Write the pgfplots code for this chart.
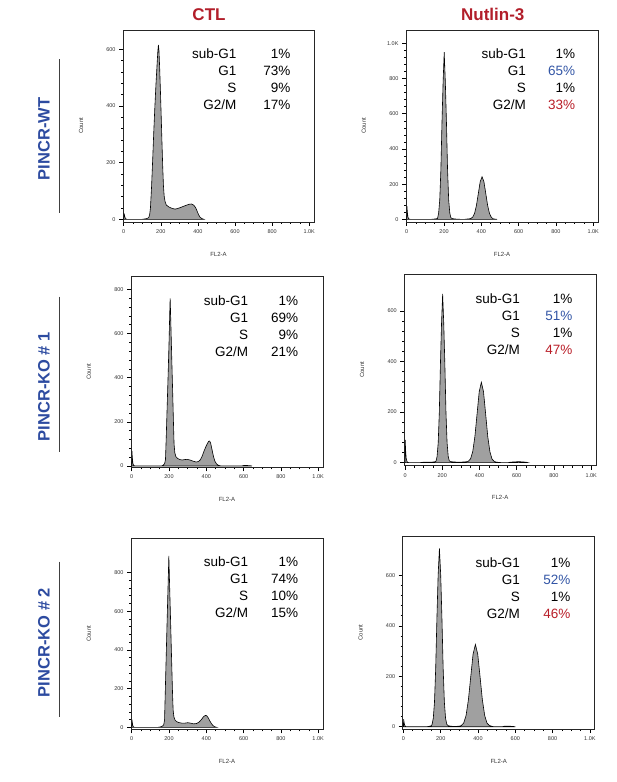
\documentclass[border=0pt]{standalone}
\usepackage{fontspec}
\setmainfont{Liberation Sans}
\usepackage{pgfplots}
\pgfplotsset{compat=1.18}
\definecolor{fillg}{RGB}{160,160,160}
\definecolor{tred}{RGB}{178,30,42}
\definecolor{rblue}{RGB}{45,75,160}
\definecolor{vblue}{RGB}{50,85,165}
\definecolor{vred}{RGB}{185,30,40}
\newcommand{\statfont}{\fontsize{13.5}{15}\selectfont}
\newcommand{\stats}[7]{%
  \node[anchor=base east,font=\statfont] at ({#1pt},{#3pt}) {sub-G1};
  \node[anchor=base east,font=\statfont] at ({#1pt},{#3pt-17pt}) {G1};
  \node[anchor=base east,font=\statfont] at ({#1pt},{#3pt-34pt}) {S};
  \node[anchor=base east,font=\statfont] at ({#1pt},{#3pt-51pt}) {G2/M};
  \node[anchor=base east,font=\statfont] at ({#2pt},{#3pt}) {#4};
  \node[anchor=base east,font=\statfont] at ({#2pt},{#3pt-17pt}) {#5};
  \node[anchor=base east,font=\statfont] at ({#2pt},{#3pt-34pt}) {#6};
  \node[anchor=base east,font=\statfont] at ({#2pt},{#3pt-51pt}) {#7};
}
\pgfplotsset{flow/.style={
  scale only axis, anchor=south west,
  xmin=-4, xmax=1026,
  xtick={0,200,400,600,800,1000},
  xticklabels={0,200,400,600,800,1.0K},
  minor x tick num=3,
  minor y tick num=4,
  tick align=outside,
  xtick pos=left, ytick pos=left,
  major tick length=4pt, minor tick length=2pt,
  tick style={black, line width=0.6pt},
  axis line style={black!85, line width=0.7pt},
  tick label style={font=\fontsize{5.5}{6}\selectfont, text=black!80},
  xlabel={FL2-A}, ylabel={Count},
  label style={font=\fontsize{6}{7}\selectfont, text=black!80},
  xlabel style={at={(axis description cs:0.5,-0.168)}, anchor=center},
  ylabel style={at={(axis description cs:-0.22,0.5)}, anchor=center},
  clip=true,
},
hist/.style={draw=black, line width=0.6pt, fill=fillg}}
\begin{document}
\begin{tikzpicture}
\path[use as bounding box] (0pt,0pt) rectangle (617pt,782pt);

% ---------- Row 1 left: PINCR-WT, CTL
\begin{axis}[flow, at={(123pt,560pt)}, width=191pt, height=192pt,
  ymin=-9.5, ymax=668, ytick={0,200,400,600}, yticklabels={0,200,400,600}]
\addplot[hist] coordinates {(0,0)(1,20)(3,18)(6,8)(10,2)(16,0)(100,0)(120,2)(130,4)(136,8)(140,18)(144,40)(150,115)(156,210)(162,310)(168,400)(174,480)(180,550)(184,595)(187,615)(190,595)(194,530)(198,450)(202,365)(206,275)(210,190)(214,120)(218,82)(223,62)(230,50)(245,43)(262,38)(278,36)(295,39)(315,44)(335,49)(352,53)(365,54)(377,50)(387,42)(395,30)(403,17)(411,8)(420,3)(432,0)} \closedcycle;
\end{axis}

% ---------- Row 1 right: PINCR-WT, Nutlin-3
\begin{axis}[flow, at={(406pt,560pt)}, width=192pt, height=192pt,
  ymin=-15, ymax=1076, ytick={0,200,400,600,800,1000}, yticklabels={0,200,400,600,800,1.0K}]
\addplot[hist] coordinates {(0,0)(1,75)(3,45)(6,15)(10,4)(15,1)(20,0)(130,0)(150,2)(160,4)(165,5)(171,35)(177,110)(183,280)(189,551)(195,780)(201,950)(207,780)(213,551)(219,280)(225,110)(231,35)(237,9)(245,4)(260,2)(275,1)(290,0)(310,0)(325,2)(335,3)(344,5)(354,13)(364,35)(374,80)(384,147)(394,214)(404,242)(414,214)(424,147)(434,79)(444,33)(454,11)(464,3)(475,1)(485,0)} \closedcycle;
\end{axis}

% ---------- Row 2 left: PINCR-KO #1, CTL
\begin{axis}[flow, at={(131pt,314.5pt)}, width=192pt, height=191.5pt,
  ymin=-7, ymax=861, ytick={0,200,400,600,800}, yticklabels={0,200,400,600,800}]
\addplot[hist] coordinates {(0,0)(1,68)(3,40)(6,12)(10,3)(16,0)(160,0)(168,3)(174,8)(178,16)(181,30)(185,130)(190,270)(195,410)(200,560)(204,700)(206,760)(208,705)(212,575)(216,445)(220,320)(224,190)(227,100)(231,60)(237,42)(246,34)(258,29)(270,27)(285,29)(298,30)(312,27)(328,22)(345,18)(358,20)(368,28)(378,45)(388,68)(398,88)(406,102)(413,112)(418,113)(423,104)(428,85)(434,60)(440,38)(447,20)(455,9)(465,3)(478,0)(590,0)(600,2)(620,2)(635,1)(645,0)} \closedcycle;
\end{axis}

% ---------- Row 2 right: PINCR-KO #1, Nutlin-3
\begin{axis}[flow, at={(404.3pt,316.3pt)}, width=191.7pt, height=191.7pt,
  ymin=-12, ymax=746, ytick={0,200,400,600}, yticklabels={0,200,400,600}]
\addplot[hist] coordinates {(0,0)(1,90)(3,50)(6,18)(10,5)(15,1)(22,0)(80,0)(100,2)(140,2)(158,3)(166,5)(172,24)(178,77)(184,197)(190,387)(196,550)(202,667)(208,550)(214,387)(220,196)(226,77)(232,24)(238,7)(246,4)(260,3)(280,2)(300,2)(320,3)(333,4)(341,6)(352.5,16)(364,45)(375.5,105)(387,193)(398.5,281)(410,318)(421.5,281)(433,193)(444.5,103)(456,43)(467.5,14)(479,5)(490,2)(505,1)(520,0)(555,0)(565,2)(590,3)(610,4)(630,3)(650,2)(660,0)} \closedcycle;
\end{axis}

% ---------- Row 3 left: PINCR-KO #2, CTL
\begin{axis}[flow, at={(131pt,52.7pt)}, width=192pt, height=191pt,
  ymin=-10, ymax=977, ytick={0,200,400,600,800}, yticklabels={0,200,400,600,800}]
\addplot[hist] coordinates {(0,0)(1,40)(3,25)(6,8)(10,2)(15,0)(140,0)(152,2)(162,5)(168,9)(172,15)(176,40)(180,190)(185,375)(190,560)(195,740)(199,886)(203,740)(207,600)(211,455)(215,310)(219,170)(222,90)(226,55)(232,38)(240,30)(252,25)(268,22)(285,22)(300,24)(315,22)(332,18)(348,20)(362,28)(375,42)(385,55)(395,62)(402,60)(410,50)(418,35)(427,20)(436,9)(446,3)(456,0)} \closedcycle;
\end{axis}

% ---------- Row 3 right: PINCR-KO #2, Nutlin-3
\begin{axis}[flow, at={(402.7pt,53pt)}, width=192pt, height=193pt,
  ymin=-9, ymax=756, ytick={0,200,400,600}, yticklabels={0,200,400,600}]
\addplot[hist] coordinates {(0,0)(1,30)(3,20)(6,7)(10,2)(15,0)(125,0)(140,2)(150,4)(153.5,9)(160,33)(166.5,98)(173,232)(179.5,430)(186,600)(193,707)(200,600)(206.5,430)(213,232)(219.5,98)(226,33)(232.5,10)(240,4)(255,2)(275,1)(295,2)(305,3)(311,5)(323.5,15)(336,45)(348.5,107)(361,198)(373.5,288)(386,326)(398.5,288)(411,198)(423.5,106)(436,44)(448.5,14)(461,5)(472,2)(485,0)(530,0)(540,2)(570,2)(590,1)(600,0)} \closedcycle;
\end{axis}

% ---------- column titles
\node[font=\bfseries\fontsize{17}{20}\selectfont, text=tred] at (209pt,767.5pt) {CTL};
\node[font=\bfseries\fontsize{17}{20}\selectfont, text=tred] at (492.8pt,767.5pt) {Nutlin-3};

% ---------- row labels
\node[font=\bfseries\fontsize{16.5}{19}\selectfont, text=rblue, rotate=90] at (44pt,643pt) {PINCR-WT};
\node[font=\bfseries\fontsize{16.5}{19}\selectfont, text=rblue, rotate=90] at (44pt,395.3pt) {PINCR-KO \# 1};
\node[font=\bfseries\fontsize{16.5}{19}\selectfont, text=rblue, rotate=90] at (44pt,139.5pt) {PINCR-KO \# 2};
\draw[black!75, line width=1.2pt] (59.3pt,722.7pt) -- (59.3pt,568.7pt);
\draw[black!75, line width=1.2pt] (59.3pt,485.3pt) -- (59.3pt,330.3pt);
\draw[black!75, line width=1.2pt] (59.3pt,220.3pt) -- (59.3pt,65.3pt);

% ---------- statistics
\stats{240}{294}{723.9}{1\%}{73\%}{9\%}{17\%}
\stats{529.3}{578.7}{723.9}{1\%}{\textcolor{vblue}{65\%}}{1\%}{\textcolor{vred}{33\%}}
\stats{251.7}{301.7}{476.5}{1\%}{69\%}{9\%}{21\%}
\stats{523.3}{576}{478.9}{1\%}{\textcolor{vblue}{51\%}}{1\%}{\textcolor{vred}{47\%}}
\stats{251.7}{301.7}{215.5}{1\%}{74\%}{10\%}{15\%}
\stats{523.3}{574}{214.5}{1\%}{\textcolor{vblue}{52\%}}{1\%}{\textcolor{vred}{46\%}}
\end{tikzpicture}
\end{document}
